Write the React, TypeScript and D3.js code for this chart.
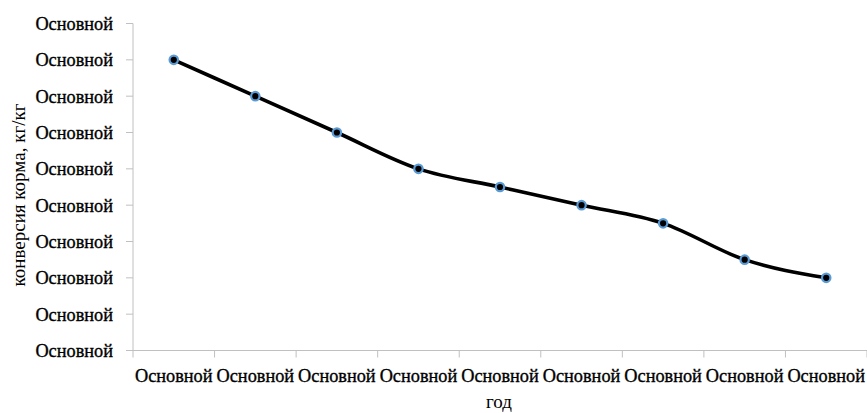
import React from "react";
import * as d3 from "d3";

const categories = ["Основной", "Основной", "Основной", "Основной", "Основной", "Основной", "Основной", "Основной", "Основной"];
const values = [3.2, 3.0, 2.8, 2.6, 2.5, 2.4, 2.3, 2.1, 2.0];
const yTicks = [1.6, 1.8, 2.0, 2.2, 2.4, 2.6, 2.8, 3.0, 3.2, 3.4];
const yTickLabels = ["Основной", "Основной", "Основной", "Основной", "Основной", "Основной", "Основной", "Основной", "Основной", "Основной"];
const yTitle = "конверсия корма, кг/кг";
const xTitle = "год";

const W = 867;
const H = 413;
const left = 133;
const right = 867;
const top = 23.5;
const bottom = 350.5;
const font = "'Liberation Serif', 'DejaVu Serif', serif";

export default function App() {
  const x = d3.scaleBand<number>().domain(categories.map((_, i) => i)).range([left, right]).padding(0);
  const y = d3.scaleLinear().domain([1.6, 3.4]).range([bottom, top]);
  const line = d3
    .line<number>()
    .x((_, i) => (x(i) as number) + x.bandwidth() / 2)
    .y((d) => y(d))
    .curve(d3.curveMonotoneX);
  const axisColor = "#c0c0c0";
  const xTickPos = d3.range(categories.length + 1).map((i) => left + i * x.bandwidth());

  return (
    <svg width={W} height={H} style={{ position: "absolute", left: 0, top: 0, background: "#fff" }}>
      <line x1={left} x2={left} y1={top} y2={bottom} stroke={axisColor} strokeWidth={1} />
      {yTicks.map((t, i) => (
        <g key={i}>
          <line x1={left - 7} x2={left} y1={y(t)} y2={y(t)} stroke={axisColor} strokeWidth={1} />
          <text x={113} y={y(t)} dy="0.35em" textAnchor="end" fontFamily={font} fontSize={18.3} fill="#000" stroke="#000" strokeWidth={0.35}>
            {yTickLabels[i]}
          </text>
        </g>
      ))}
      <line x1={left} x2={right} y1={bottom} y2={bottom} stroke={axisColor} strokeWidth={1} />
      {xTickPos.map((p, i) => (
        <line key={i} x1={p} x2={p} y1={bottom} y2={bottom + 7} stroke={axisColor} strokeWidth={1} />
      ))}
      {categories.map((c, i) => (
        <text
          key={i}
          x={(x(i) as number) + x.bandwidth() / 2}
          y={382}
          textAnchor="middle"
          fontFamily={font}
          fontSize={18.3}
          fill="#000"
          stroke="#000"
          strokeWidth={0.35}
        >
          {c}
        </text>
      ))}
      <text
        transform={`translate(25, ${(top + bottom) / 2 + 8}) rotate(-90)`}
        textAnchor="middle"
        fontFamily={font}
        fontSize={19}
        fill="#000"
      >
        {yTitle}
      </text>
      <text x={499} y={408} textAnchor="middle" fontFamily={font} fontSize={19} fill="#000">
        {xTitle}
      </text>
      <path d={line(values) || ""} fill="none" stroke="#000" strokeWidth={3.6} strokeLinejoin="round" />
      {values.map((v, i) => (
        <circle
          key={i}
          cx={(x(i) as number) + x.bandwidth() / 2}
          cy={y(v)}
          r={4.2}
          fill="#000"
          stroke="#5b9bd5"
          strokeWidth={2.2}
        />
      ))}
    </svg>
  );
}
